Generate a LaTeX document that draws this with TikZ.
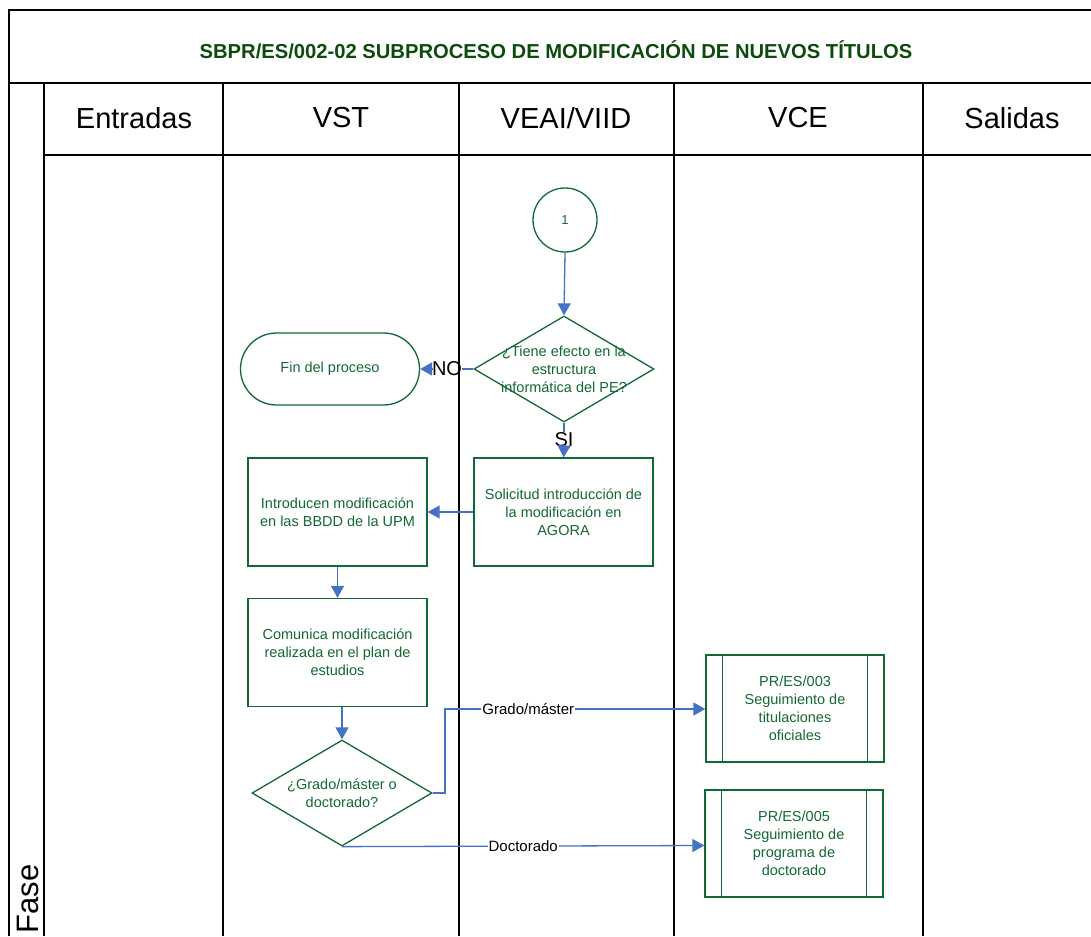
\documentclass[tikz,border=0pt]{standalone}
\usepackage{fontspec}
\setmainfont{Liberation Sans}
\usetikzlibrary{shapes.geometric,arrows.meta,positioning}
\definecolor{sgreen}{RGB}{18,104,52}
\definecolor{tgreen}{RGB}{12,74,14}
\definecolor{ablue}{RGB}{68,114,196}
\tikzset{
  shp/.style={draw=sgreen,line width=1.3pt,text=sgreen,font=\fontsize{14.5}{18}\selectfont,align=center,inner sep=0pt},
  procbox/.style={shp,rectangle,minimum width=179pt,minimum height=108pt},
  predef/.style={shp,rectangle,minimum width=178pt,minimum height=107pt},
  term/.style={shp,rectangle,rounded corners=36pt,minimum width=179pt,minimum height=72pt},
  dec/.style={shp,diamond,minimum width=180pt,minimum height=106pt,aspect=1.7},
  conn/.style={shp,circle,minimum size=64pt},
  flow/.style={draw=ablue,line width=1.3pt,-{Triangle[length=12pt,width=13pt]}},
  plain/.style={draw=ablue,line width=1.3pt},
  elabel/.style={font=\fontsize{20}{20}\selectfont,text=black,inner sep=0pt},
  slabel/.style={font=\fontsize{15}{15}\selectfont,text=black,fill=white,inner sep=1pt},
  lane/.style={draw=black,line width=1.8pt},
  hdr/.style={font=\fontsize{29}{29}\selectfont,text=black},
}
\begin{document}
\begin{tikzpicture}[x=1pt,y=-1pt]
\useasboundingbox (0,0) rectangle (1091,936);
% frame and lanes
\draw[lane] (9,936) -- (9,10) -- (1091,10);
\draw[lane] (9,83) -- (1091,83);
\draw[lane] (44,155) -- (1091,155);
\foreach \x in {44,223,459,674,923}{\draw[lane] (\x,83) -- (\x,936);}
% title
\node[font=\fontsize{20.2}{20.2}\selectfont\bfseries,text=tgreen] (title) at (556,50) {SBPR/ES/002-02 SUBPROCESO DE MODIFICACIÓN DE NUEVOS TÍTULOS};
% headers
\node[hdr] (hE) at (134,118) {Entradas};
\node[hdr] (hV) at (341,118) {VST};
\node[hdr] (hA) at (566,118) {VEAI/VIID};
\node[hdr] (hC) at (798,118) {VCE};
\node[hdr] (hS) at (1012,118) {Salidas};
\node[hdr,font=\fontsize{31}{31}\selectfont,rotate=90,anchor=west] (fase) at (28,937) {Fase};
% nodes
\node[conn,font=\fontsize{13}{13}\selectfont] (c1) at (565,220) {1};
\node[dec,label={[shp,draw=none,text=sgreen]center:¿Tiene efecto en la\\estructura\\informática del PE?}] (d1) at (564,369) {};
\node[term] (fin) at (330,369) {Fin del proceso};
\node[procbox] (sol) at (563.5,512) {Solicitud introducción de\\la modificación en\\AGORA};
\node[procbox] (intro) at (337.5,512) {Introducen modificación\\en las BBDD de la UPM};
\node[procbox] (com) at (337.5,652.5) {Comunica modificación\\realizada en el plan de\\estudios};
\node[dec,label={[shp,draw=none,text=sgreen]center:¿Grado/máster o\\doctorado?}] (d2) at (342,793) {};
\node[predef] (p3) at (795,708.5) {PR/ES/003\\Seguimiento de\\titulaciones\\oficiales};
\node[predef] (p5) at (794,843.5) {PR/ES/005\\Seguimiento de\\programa de\\doctorado};
\foreach \p in {p3,p5}{
  \draw[sgreen,line width=1.3pt] ([xshift=17pt]\p.north west) -- ([xshift=17pt]\p.south west);
  \draw[sgreen,line width=1.3pt] ([xshift=-17pt]\p.north east) -- ([xshift=-17pt]\p.south east);
}
\node[elabel] (no) at (447,369) {NO};
\node[elabel,fill=white,inner sep=1pt] (si) at (564,440) {SI};
% connectors
\draw[flow] (c1.south) -- (d1.north);
\draw[plain] (d1.west) -- (no.east);
\draw[flow] (no.west) -- (fin.east);
\draw[plain] (d1.south) -- (si.north);
\draw[flow] (si.south) -- (sol.north);
\draw[flow] (sol.west) -- (intro.east);
\draw[flow] (intro.south) -- (com.north);
\draw[flow] ([xshift=4.5pt]com.south) -- (d2.north);
\coordinate (g1) at (445,793);
\coordinate (g2) at (445,709);
\draw[flow] (d2.east) -- (g1) -- (g2) -- node[slabel,pos=0.32] (gm) {Grado/máster} (p3.west |- g2);
\draw[flow] (d2.south) -- node[slabel,pos=0.5] (doc) {Doctorado} ([yshift=-2pt]p5.west);
\end{tikzpicture}
\end{document}
